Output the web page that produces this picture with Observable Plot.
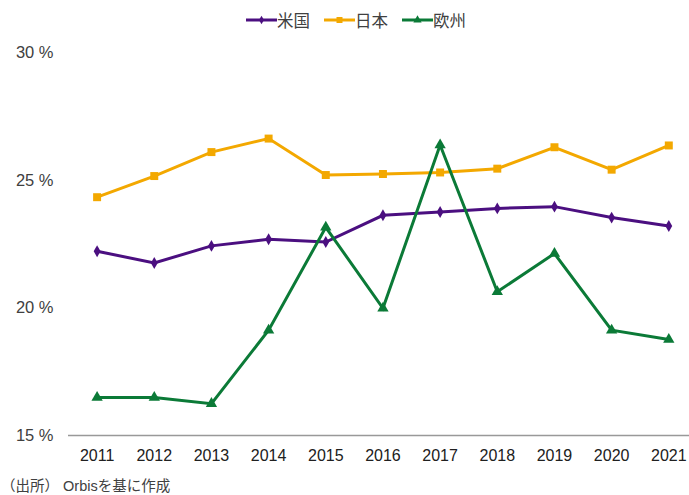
<!DOCTYPE html>
<html>
<head>
<meta charset="utf-8">
<script src="https://cdn.jsdelivr.net/npm/d3@7"></script>
<script src="https://cdn.jsdelivr.net/npm/@observablehq/plot@0.6"></script>
<style>
  html, body { margin: 0; padding: 0; background: #fff; }
  #wrap { position: relative; width: 689px; height: 495px; overflow: hidden;
          font-family: "Liberation Sans", Arial, "Noto Sans CJK JP", sans-serif; color: #404040; }
  #chart { position: absolute; left: 0; top: 0; }
  #chart svg text { font-family: "Liberation Sans", Arial, sans-serif; }
  #legend { position: absolute; left: 246px; top: 9px; display: flex; align-items: center; height: 22px;
            font-family: "Noto Sans CJK JP", sans-serif; font-size: 16.5px; color: #404040; }
  #legend .item { display: flex; align-items: center; margin-right: 14px; }
  #legend svg { display: block; }
  #caption { position: absolute; left: 1px; top: 478px; font-size: 14.5px; line-height: 17px;
             font-family: "Liberation Sans", Arial, "Noto Sans CJK JP", sans-serif; color: #404040; white-space: nowrap; }
</style>
</head>
<body>
<div id="wrap">
  <div id="chart"></div>
  <div id="legend"></div>
  <div id="caption"></div>
</div>
<script>
const years = [2011, 2012, 2013, 2014, 2015, 2016, 2017, 2018, 2019, 2020, 2021];
const seriesNames = ["米国", "日本", "欧州"];
const seriesColors = ["#4b0f80", "#f3a800", "#0b7a37"];
const seriesSymbols = ["diamond", "square", "triangle"];
const usValues = [22.23, 21.77, 22.44, 22.70, 22.59, 23.64, 23.77, 23.91, 23.98, 23.55, 23.22];
const japanValues = [24.35, 25.18, 26.12, 26.65, 25.22, 25.26, 25.32, 25.47, 26.31, 25.43, 26.38];
const europeValues = [16.49, 16.49, 16.25, 19.13, 23.17, 19.99, 26.40, 20.64, 22.14, 19.13, 18.77];
const yTicks = [15, 20, 25, 30];
const captionText = "（出所） Orbisを基に作成";

const allValues = [usValues, japanValues, europeValues];
const data = [];
seriesNames.forEach((name, i) => {
  years.forEach((yr, j) => data.push({series: name, year: yr, value: allValues[i][j]}));
});

const symbolSizes = {"米国": 3.6, "日本": 4.5, "欧州": 4.2};

const chart = Plot.plot({
  width: 689,
  height: 470,
  marginLeft: 68,
  marginRight: 0,
  marginTop: 52.7,
  marginBottom: 35,
  style: {fontFamily: '"Liberation Sans", Arial, sans-serif', fontSize: "16.5px", color: "#404040", background: "transparent"},
  x: {type: "linear", domain: [2011, 2021], range: [96.6, 668.3]},
  y: {domain: [15, 30]},
  color: {domain: seriesNames, range: seriesColors},
  symbol: {domain: seriesNames, range: seriesSymbols},
  marks: [
    Plot.ruleY([15], {stroke: "#999", strokeWidth: 1.5}),
    Plot.axisY({ticks: yTicks, tickSize: 0, tickPadding: 15, tickFormat: d => d + " %", label: null, fill: "#404040", fontSize: "16.5px"}),
    Plot.axisX({ticks: years, tickSize: 0, tickPadding: 14, tickFormat: d => String(d), label: null, fill: "#202020", fontSize: "16px"}),
    Plot.line(data, {x: "year", y: "value", z: "series", stroke: "series", strokeWidth: 3, strokeLinejoin: "miter", strokeMiterlimit: 10}),
    ...seriesNames.map(name => Plot.dot(data.filter(d => d.series === name), {
      x: "year", y: "value", symbol: "series", fill: "series", stroke: "none", r: symbolSizes[name]
    }))
  ]
});
document.getElementById("chart").appendChild(chart);

// Legend
const legend = document.getElementById("legend");
seriesNames.forEach((name, i) => {
  const item = document.createElement("div");
  item.className = "item";
  const w = 31, h = 14;
  const svg = d3.create("svg").attr("width", w).attr("height", h);
  svg.append("line").attr("x1", 0).attr("x2", w).attr("y1", h / 2).attr("y2", h / 2)
    .attr("stroke", seriesColors[i]).attr("stroke-width", 3);
  const symMap = {diamond: d3.symbolDiamond, square: d3.symbolSquare, triangle: d3.symbolTriangle};
  const sizes = [22, 36, 30];
  svg.append("path").attr("transform", `translate(${w / 2},${h / 2})`)
    .attr("d", d3.symbol(symMap[seriesSymbols[i]], sizes[i])()).attr("fill", seriesColors[i]);
  item.appendChild(svg.node());
  const span = document.createElement("span");
  span.textContent = name;
  item.appendChild(span);
  legend.appendChild(item);
});

document.getElementById("caption").textContent = captionText;
</script>
</body>
</html>
